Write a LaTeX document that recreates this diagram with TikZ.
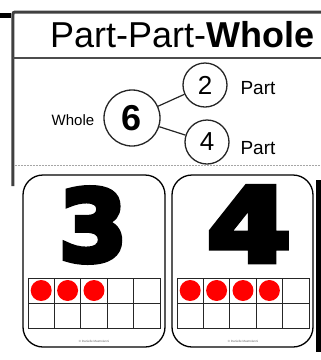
\documentclass[tikz,border=0pt]{standalone}
\usepackage{fontspec}
\setmainfont{Liberation Sans}
\newfontfamily\heavynum{DejaVu Sans Bold}[FakeBold=6]
\begin{document}
\begin{tikzpicture}[x=1pt,y=-1pt,
  frameline/.style={draw=black!75,line width=3pt},
  ring/.style={circle,draw=black!85,line width=1.3pt,inner sep=0pt},
  card/.style={draw=black,line width=1.3pt,rounded corners=20pt},
  cell/.style={draw=black!85,line width=0.9pt},
  dot/.style={fill=red}]
\useasboundingbox (0,0) rectangle (321,360);
\fill[white] (0,0) rectangle (321,360);
% top panel frame
\fill[black] (0,13) rectangle (11,17.5);
\draw[frameline,rounded corners=2pt] (13,186) -- (13,12) -- (330,12);
\draw[draw=black!70,line width=2.5pt] (13,58) -- (321,58);
\draw[black!35,line width=1pt,dash pattern=on 2pt off 1pt] (15,165) -- (321,165);
\node[anchor=base west,inner sep=0pt,font=\fontsize{36}{36}\selectfont] (title) at (50,47) {Part-Part-\textbf{Whole}};
% part-part-whole diagram
\node[ring,minimum size=56pt,font=\fontsize{36}{36}\selectfont\bfseries] (six) at (132,118) {6};
\node[ring,minimum size=44pt,font=\fontsize{26}{26}\selectfont] (two) at (205,85) {2};
\node[ring,minimum size=44pt,font=\fontsize{26}{26}\selectfont] (four) at (207,142) {4};
\draw[black!85,line width=1.2pt] (six) -- (two);
\draw[black!85,line width=1.2pt] (six) -- (four);
\node[font=\fontsize{15}{15}\selectfont] (whole) at (73,120) {Whole};
\node[font=\fontsize{19}{19}\selectfont] (p1) at (258,88) {Part};
\node[font=\fontsize{19}{19}\selectfont] (p2) at (258,148) {Part};
% bottom panel
\fill[white] (20,170) rectangle (321,360);
\fill[black] (316,180) rectangle (321,352);
\draw[card] (23,175) rectangle (165,347);
\draw[card] (172,175) rectangle (313,347);
\node[inner sep=0pt] (three) at (93,225) {\heavynum\fontsize{98}{98}\selectfont 3};
\node[inner sep=0pt] (fourbig) at (249,224) {\scalebox{1.18}[1]{\heavynum\fontsize{102}{102}\selectfont 4}};
% ten frames
\foreach \i in {0,...,4}{
  \foreach \j in {0,1}{
    \draw[cell] ({28+26.4*\i},{278+25*\j}) rectangle ++(26.4,25);
    \draw[cell] ({177+26.4*\i},{278+25*\j}) rectangle ++(26.4,25);
  }
}
\foreach \i in {0,1,2} \fill[dot] ({41.2+26.4*\i},290.5) circle (10.5);
\foreach \i in {0,1,2,3} \fill[dot] ({190.2+26.4*\i},290.5) circle (10.5);
\node[font=\fontsize{3}{3}\selectfont,text=black!60] (c1) at (94,341) {\textcopyright\ Danielle Mastrolanni};
\node[font=\fontsize{3}{3}\selectfont,text=black!60] (c2) at (243,341) {\textcopyright\ Danielle Mastrolanni};
\end{tikzpicture}
\end{document}
